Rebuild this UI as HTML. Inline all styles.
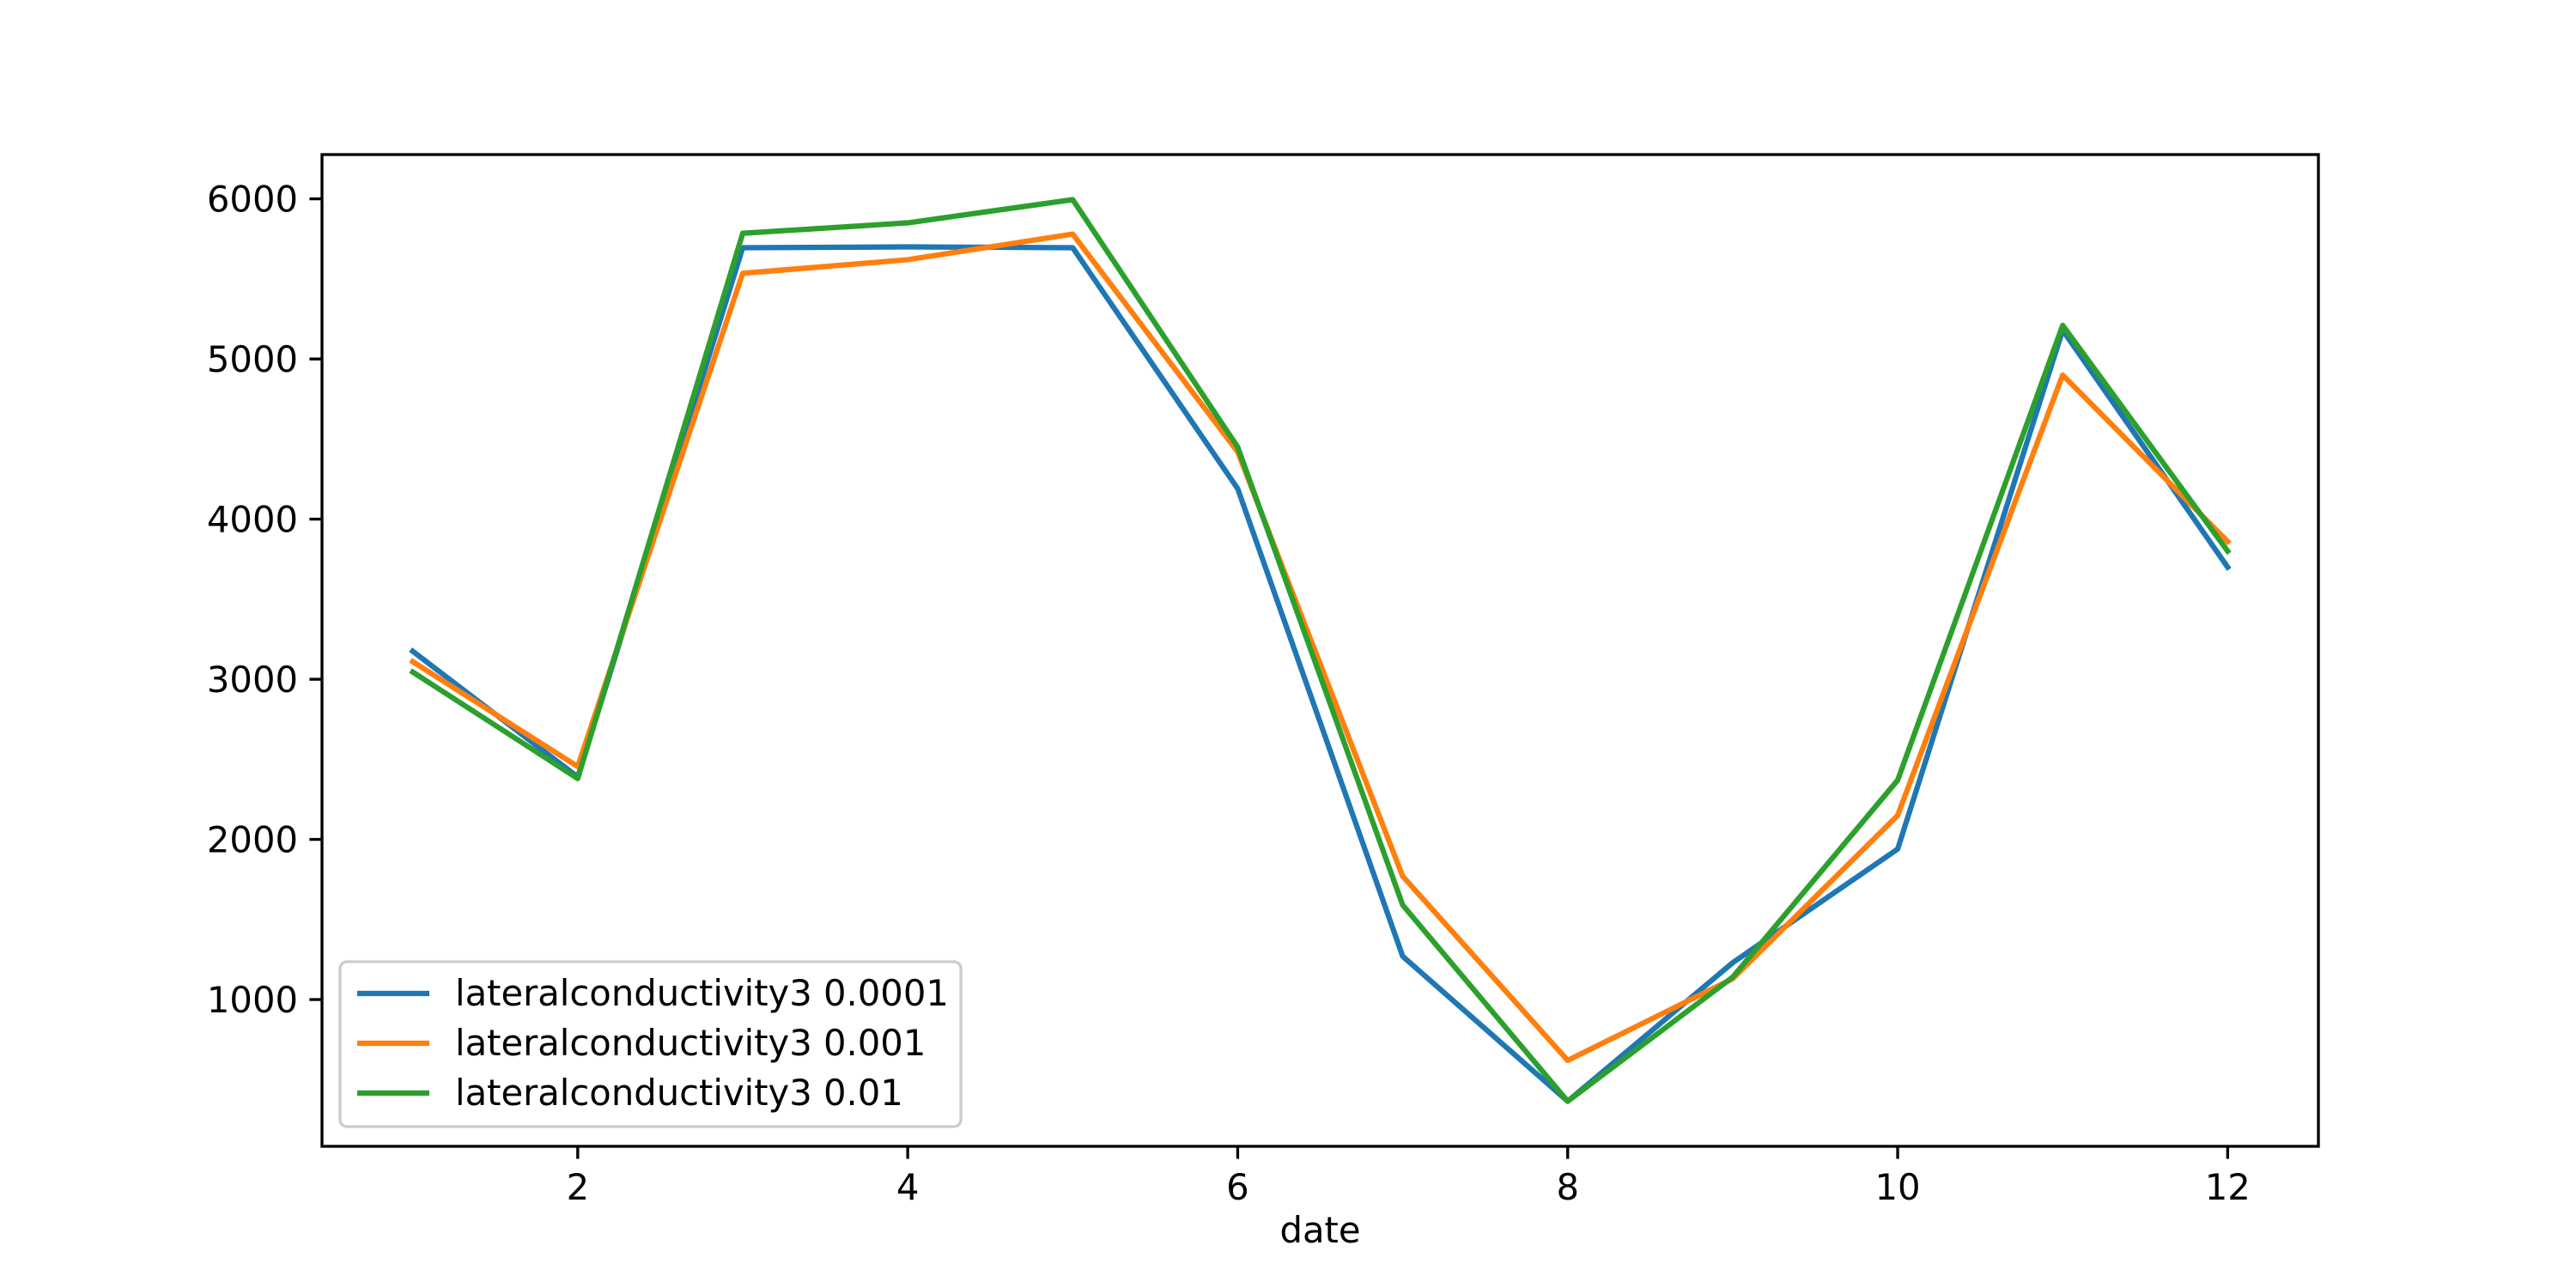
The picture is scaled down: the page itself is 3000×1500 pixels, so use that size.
<!DOCTYPE html>
<html><head><meta charset="utf-8"><style>
html,body{margin:0;padding:0;background:#fff;}
svg{display:block;font-family:"DejaVu Sans","Liberation Sans",sans-serif;}
</style></head><body>
<svg id="chart" width="3000" height="1500" viewBox="0 0 3000 1500"></svg>
<script>
const categories = [1,2,3,4,5,6,7,8,9,10,11,12];
const seriesNames = ["lateralconductivity3 0.0001","lateralconductivity3 0.001","lateralconductivity3 0.01"];
const seriesBlue = [3175,2390,5695,5700,5695,4190,1270,365,1230,1940,5180,3700];
const seriesOrange = [3110,2455,5535,5620,5780,4420,1770,620,1130,2150,4900,3860];
const seriesGreen = [3045,2380,5785,5850,5995,4450,1590,365,1140,2370,5210,3800];
const xTicks = [2,4,6,8,10,12];
const yTicks = [1000,2000,3000,4000,5000,6000];
const colors = ["#1f77b4","#ff7f0e","#2ca02c"];

const svg = document.getElementById('chart');
const NS = "http://www.w3.org/2000/svg";
const L=375,R=2700,T=180,B=1335;
const all=[...seriesBlue,...seriesOrange,...seriesGreen];
const ymn=Math.min(...all),ymx=Math.max(...all),yr=ymx-ymn;
const y0=ymn-0.05*yr,y1=ymx+0.05*yr;
const xmn=Math.min(...categories),xmx=Math.max(...categories),xr=xmx-xmn;
const x0=xmn-0.05*xr,x1=xmx+0.05*xr;
const sx=v=>L+(v-x0)/(x1-x0)*(R-L);
const sy=v=>B-(v-y0)/(y1-y0)*(B-T);
function mk(tag,attrs,parent){const e=document.createElementNS(NS,tag);for(const k in attrs)e.setAttribute(k,attrs[k]);(parent||svg).appendChild(e);return e;}

[seriesBlue,seriesOrange,seriesGreen].forEach((s,i)=>{
  const p=mk('polyline',{points:s.map((v,j)=>sx(categories[j])+','+sy(v)).join(' '),fill:'none',stroke:colors[i],'stroke-width':6.25,'stroke-linejoin':'round','stroke-linecap':'square'});
  
  
});

const frame=mk('rect',{x:L,y:T,width:R-L,height:B-T,fill:'none',stroke:'#000','stroke-width':3.33});



xTicks.forEach(t=>{
  const x=sx(t);
  mk('line',{x1:x,y1:B,x2:x,y2:B+14.6,stroke:'#000','stroke-width':3.33});
  const tx=mk('text',{x:x,y:B+62,'font-size':41.7,'text-anchor':'middle',fill:'#000'});
  tx.textContent=t;
  
  
});
yTicks.forEach(t=>{
  const y=sy(t);
  mk('line',{x1:L,y1:y,x2:L-14.6,y2:y,stroke:'#000','stroke-width':3.33});
  const tx=mk('text',{x:L-28,y:y+15,'font-size':41.7,'text-anchor':'end',fill:'#000'});
  tx.textContent=t;
  
  
});
const xl=mk('text',{x:(L+R)/2,y:B+112,'font-size':41.7,'text-anchor':'middle',fill:'#000'});
xl.textContent='date';



const lg=mk('g',{});


mk('rect',{x:396,y:1120,width:723,height:192,rx:8,fill:'#fff','fill-opacity':0.8,stroke:'#ccc','stroke-width':3.33},lg);
seriesNames.forEach((n,i)=>{
  const y=1157+i*58;
  mk('line',{x1:416,y1:y,x2:500,y2:y,stroke:colors[i],'stroke-width':6.25},lg);
  const t=mk('text',{x:530,y:y+14,'font-size':41.7,fill:'#000'},lg);
  t.textContent=n;
  
  
});
</script>
</body></html>
